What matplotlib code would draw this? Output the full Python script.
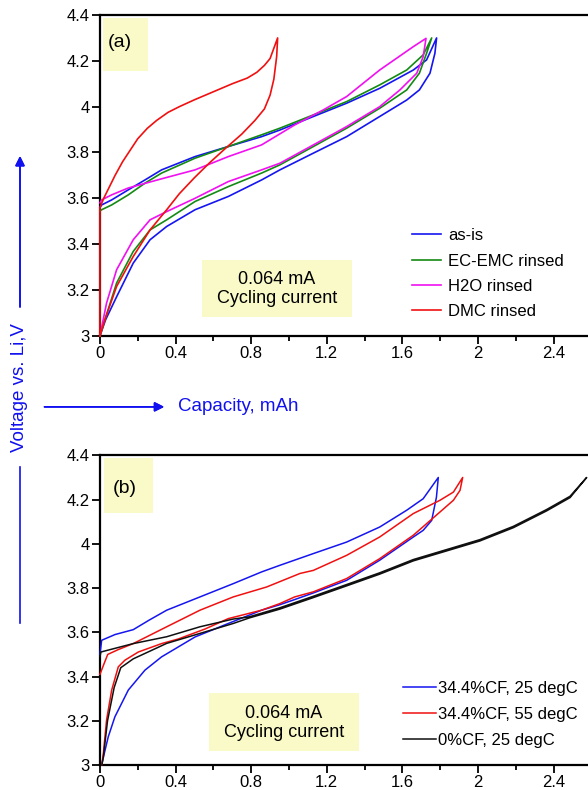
import numpy as np
import matplotlib
matplotlib.use('Agg')
import matplotlib.pyplot as plt
from matplotlib.lines import Line2D
from matplotlib.patches import Rectangle
from matplotlib.ticker import MultipleLocator, FormatStrFormatter

plt.rcParams['font.family'] = ['Liberation Sans', 'DejaVu Sans']

# ---- panel (a): rinsing treatments, charge branch then discharge branch ----
asis_cx = [0, 0.03, 0.088, 0.176, 0.265, 0.353, 0.503, 0.679, 0.855, 0.952, 1.129, 1.305, 1.48, 1.623, 1.69, 1.746, 1.772, 1.781]
asis_cv = [3.0, 3.07, 3.17, 3.317, 3.419, 3.477, 3.55, 3.608, 3.68, 3.724, 3.797, 3.869, 3.957, 4.029, 4.073, 4.146, 4.233, 4.30]
asis_dx = [1.781, 1.728, 1.658, 1.48, 1.305, 1.129, 0.952, 0.855, 0.679, 0.503, 0.326, 0.238, 0.15, 0.062, 0.009, 0]
asis_dv = [4.30, 4.204, 4.16, 4.08, 4.015, 3.957, 3.898, 3.869, 3.826, 3.782, 3.724, 3.68, 3.637, 3.593, 3.571, 3.56]

ecemc_cx = [0, 0.03, 0.088, 0.176, 0.265, 0.353, 0.503, 0.679, 0.855, 0.952, 1.129, 1.305, 1.48, 1.623, 1.69, 1.728, 1.755]
ecemc_cv = [3.0, 3.08, 3.23, 3.368, 3.462, 3.506, 3.586, 3.651, 3.71, 3.746, 3.826, 3.906, 3.993, 4.073, 4.146, 4.233, 4.30]
ecemc_dx = [1.755, 1.71, 1.623, 1.48, 1.305, 1.129, 0.952, 0.855, 0.679, 0.503, 0.326, 0.238, 0.15, 0.062, 0.009, 0]
ecemc_dv = [4.30, 4.226, 4.16, 4.095, 4.022, 3.964, 3.906, 3.877, 3.826, 3.775, 3.71, 3.666, 3.615, 3.571, 3.55, 3.545]

h2o_cx = [0, 0.035, 0.088, 0.176, 0.265, 0.353, 0.503, 0.679, 0.855, 0.952, 1.129, 1.305, 1.48, 1.587, 1.676, 1.71, 1.725]
h2o_cv = [3.0, 3.143, 3.288, 3.419, 3.506, 3.542, 3.60, 3.673, 3.724, 3.753, 3.833, 3.913, 4.0, 4.073, 4.146, 4.218, 4.298]
h2o_dx = [1.725, 1.658, 1.48, 1.305, 1.182, 1.03, 0.855, 0.679, 0.503, 0.326, 0.15, 0.062, 0.009, 0]
h2o_dv = [4.298, 4.262, 4.16, 4.044, 3.986, 3.92, 3.833, 3.782, 3.724, 3.685, 3.645, 3.615, 3.593, 3.58]

dmc_cx = [0, 0.03, 0.088, 0.176, 0.265, 0.353, 0.42, 0.50, 0.58, 0.66, 0.75, 0.82, 0.87, 0.90, 0.92, 0.935, 0.94]
dmc_cv = [3.0, 3.08, 3.215, 3.346, 3.462, 3.55, 3.62, 3.69, 3.755, 3.815, 3.88, 3.94, 3.99, 4.05, 4.12, 4.22, 4.30]
dmc_dx = [0.94, 0.90, 0.87, 0.83, 0.78, 0.70, 0.60, 0.50, 0.42, 0.36, 0.30, 0.25, 0.20, 0.16, 0.12, 0.08, 0.05, 0.02, 0, 0]
dmc_dv = [4.30, 4.21, 4.18, 4.15, 4.125, 4.10, 4.065, 4.03, 4.0, 3.975, 3.94, 3.905, 3.86, 3.81, 3.76, 3.70, 3.65, 3.60, 3.56, 3.0]

labels_a = ['as-is', 'EC-EMC rinsed', 'H2O rinsed', 'DMC rinsed']

# ---- panel (b): CF content / temperature ----
cf25_cx = [0.011, 0.044, 0.079, 0.15, 0.238, 0.326, 0.503, 0.679, 0.855, 0.952, 1.03, 1.129, 1.305, 1.48, 1.658, 1.71, 1.755, 1.78, 1.79]
cf25_cv = [3.01, 3.128, 3.218, 3.339, 3.429, 3.489, 3.579, 3.64, 3.70, 3.725, 3.748, 3.778, 3.835, 3.926, 4.031, 4.061, 4.106, 4.21, 4.30]
cf25_dx = [1.79, 1.71, 1.623, 1.48, 1.305, 1.129, 0.952, 0.855, 0.705, 0.529, 0.353, 0.26, 0.176, 0.08, 0.009, 0]
cf25_dv = [4.30, 4.204, 4.152, 4.076, 4.008, 3.956, 3.903, 3.873, 3.82, 3.76, 3.70, 3.655, 3.612, 3.59, 3.564, 3.50]

cf55_cx = [0.01, 0.018, 0.035, 0.062, 0.097, 0.132, 0.203, 0.326, 0.415, 0.556, 0.679, 0.855, 0.952, 1.03, 1.129, 1.305, 1.48, 1.658, 1.799, 1.87, 1.905, 1.919]
cf55_cv = [3.0, 3.053, 3.204, 3.339, 3.444, 3.474, 3.511, 3.549, 3.57, 3.615, 3.662, 3.70, 3.73, 3.76, 3.783, 3.843, 3.933, 4.039, 4.144, 4.197, 4.242, 4.30]
cf55_dx = [1.919, 1.87, 1.799, 1.658, 1.48, 1.305, 1.129, 1.058, 0.882, 0.705, 0.529, 0.353, 0.176, 0.097, 0.041, 0.018, 0]
cf55_dv = [4.30, 4.234, 4.197, 4.137, 4.031, 3.948, 3.88, 3.866, 3.805, 3.76, 3.70, 3.625, 3.549, 3.522, 3.50, 3.45, 3.41]

cf0_cx = [0.01, 0.018, 0.04, 0.075, 0.11, 0.176, 0.353, 0.529, 0.705, 0.79, 0.952, 1.129, 1.305, 1.48, 1.658, 1.834, 2.01, 2.187, 2.363, 2.487, 2.575]
cf0_cv = [3.0, 3.037, 3.20, 3.35, 3.44, 3.48, 3.55, 3.595, 3.64, 3.665, 3.705, 3.757, 3.81, 3.863, 3.923, 3.968, 4.013, 4.073, 4.149, 4.209, 4.30]
cf0_dx = [2.575, 2.487, 2.363, 2.187, 2.01, 1.834, 1.658, 1.48, 1.305, 1.129, 0.952, 0.79, 0.705, 0.529, 0.353, 0.176, 0.005, 0]
cf0_dv = [4.30, 4.215, 4.155, 4.079, 4.019, 3.974, 3.929, 3.869, 3.816, 3.763, 3.711, 3.67, 3.66, 3.625, 3.58, 3.549, 3.511, 3.49]

labels_b = ['34.4%CF, 25 degC', '34.4%CF, 55 degC', '0%CF, 25 degC']

BOX = '#FAFAC8'
FS = 12

fig = plt.figure(figsize=(5.88, 7.9), dpi=100)
ax1 = fig.add_axes([0.170, 0.575, 0.830, 0.406])
ax2 = fig.add_axes([0.170, 0.0316, 0.830, 0.392])


def style_axis(ax):
    ax.set_xlim(0, 2.582)
    ax.set_ylim(3, 4.4)
    ax.xaxis.set_major_locator(MultipleLocator(0.4))
    ax.xaxis.set_minor_locator(MultipleLocator(0.2))
    ax.yaxis.set_major_locator(MultipleLocator(0.2))
    ax.xaxis.set_major_formatter(FormatStrFormatter('%g'))
    ax.yaxis.set_major_formatter(FormatStrFormatter('%g'))
    ax.spines['right'].set_visible(False)
    for s in ['left', 'bottom', 'top']:
        ax.spines[s].set_linewidth(1.6)
    ax.tick_params(which='major', direction='out', length=5.5, width=1.3, labelsize=FS, pad=2)
    ax.tick_params(which='minor', direction='out', length=3.5, width=1.3)
    ax.tick_params(top=False, right=False)


def loop(cx, cv, dx, dv):
    return np.concatenate([cx, dx]), np.concatenate([cv, dv])


# panel (a)
series_a = [(asis_cx, asis_cv, asis_dx, asis_dv, '#1515F0'),
            (ecemc_cx, ecemc_cv, ecemc_dx, ecemc_dv, '#138A13'),
            (h2o_cx, h2o_cv, h2o_dx, h2o_dv, '#F010F0'),
            (dmc_cx, dmc_cv, dmc_dx, dmc_dv, '#F01010')]
for (cx, cv, dx, dv, c), lab in zip(series_a, labels_a):
    x, v = loop(cx, cv, dx, dv)
    ax1.plot(x, v, color=c, lw=1.2, label=lab, clip_on=False, zorder=3)
style_axis(ax1)
ax1.legend(loc='upper left', bbox_to_anchor=(0.639, 0.335), frameon=False, fontsize=FS,
           handlelength=1.75, handletextpad=0.45, labelspacing=0.62, borderpad=0, borderaxespad=0)

ax1.add_patch(Rectangle((0.006, 0.826), 0.092, 0.165, transform=ax1.transAxes, color=BOX, lw=0, zorder=0))
ax1.text(0.016, 0.913, '(a)', transform=ax1.transAxes, fontsize=14, va='center', ha='left')
ax1.add_patch(Rectangle((0.209, 0.059), 0.307, 0.178, transform=ax1.transAxes, color=BOX, lw=0, zorder=0))
ax1.text(0.363, 0.146, '0.064 mA\nCycling current', transform=ax1.transAxes, fontsize=13,
         ha='center', va='center', multialignment='center', linespacing=1.15)

# panel (b)
series_b = [(cf25_cx, cf25_cv, cf25_dx, cf25_dv, '#1515F0'),
            (cf55_cx, cf55_cv, cf55_dx, cf55_dv, '#F01010'),
            (cf0_cx, cf0_cv, cf0_dx, cf0_dv, '#101010')]
for (cx, cv, dx, dv, c), lab in zip(series_b, labels_b):
    x, v = loop(cx, cv, dx, dv)
    ax2.plot(x, v, color=c, lw=1.1, label=lab, clip_on=False, zorder=3)
style_axis(ax2)
ax2.legend(loc='upper left', bbox_to_anchor=(0.621, 0.272), frameon=False, fontsize=FS,
           handlelength=2.0, handletextpad=0.1, labelspacing=0.66, borderpad=0, borderaxespad=0)

ax2.add_patch(Rectangle((0.008, 0.813), 0.101, 0.177, transform=ax2.transAxes, color=BOX, lw=0, zorder=0))
ax2.text(0.027, 0.894, '(b)', transform=ax2.transAxes, fontsize=14, va='center', ha='left')
ax2.add_patch(Rectangle((0.223, 0.045), 0.308, 0.187, transform=ax2.transAxes, color=BOX, lw=0, zorder=0))
ax2.text(0.377, 0.135, '0.064 mA\nCycling current', transform=ax2.transAxes, fontsize=13,
         ha='center', va='center', multialignment='center', linespacing=1.15)

# shared axis labels with arrows
BLUE = '#1010F0'
fig.text(0.034, 0.510, 'Voltage vs. Li,V', rotation=90, color=BLUE, fontsize=13.5,
         ha='center', va='center')
fig.add_artist(Line2D([0.034, 0.034], [0.211, 0.409], transform=fig.transFigure, color=BLUE, lw=1.2))
fig.add_artist(plt.annotate('', xy=(0.034, 0.806), xytext=(0.034, 0.608), xycoords='figure fraction',
                            arrowprops=dict(arrowstyle='-|>', color=BLUE, lw=1.2, mutation_scale=14)))
fig.add_artist(plt.annotate('', xy=(0.284, 0.485), xytext=(0.071, 0.485), xycoords='figure fraction',
                            arrowprops=dict(arrowstyle='-|>', color=BLUE, lw=1.2, mutation_scale=14)))
fig.text(0.303, 0.485, 'Capacity, mAh', color=BLUE, fontsize=13.5, ha='left', va='center')

fig.savefig('out.png', dpi=100)
